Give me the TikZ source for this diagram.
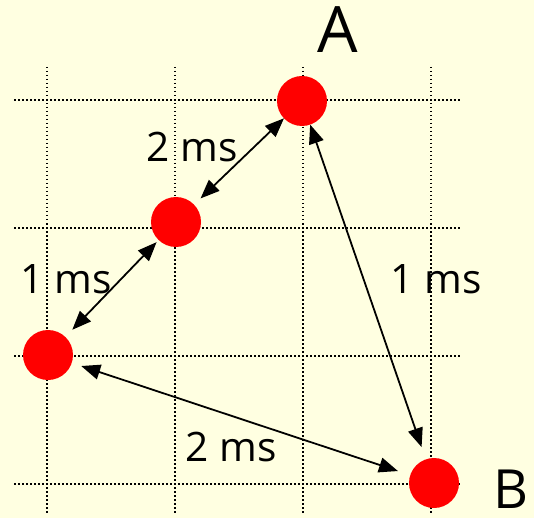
\documentclass[tikz,border=0pt]{standalone}
\usepackage{fontspec}
\setmainfont{Open Sans}
\usetikzlibrary{arrows.meta}
\definecolor{paper}{RGB}{255,255,225}
\tikzset{
  router/.style={circle, fill=red, minimum size=50pt, inner sep=0pt, outer sep=0pt},
  gridline/.style={line width=1.5pt, dash pattern=on 1.5pt off 2.5pt},
  link/.style={line width=1.8pt, {Triangle[length=19pt,width=15pt]}-{Triangle[length=19pt,width=15pt]}},
  delay/.style={anchor=base, inner sep=0pt, font=\fontsize{40.6}{40.6}\selectfont},
}
\begin{document}
\begin{tikzpicture}[x=1pt, y=-1pt]
  \fill[paper] (0,0) rectangle (534,518);
  \useasboundingbox (0,0) rectangle (534,518);
  % dotted grid
  \foreach \g in {47,175,303,431} \draw[gridline] (\g,67) -- (\g,513);
  \foreach \g in {100,228,356,484} \draw[gridline] (14,\g) -- (460,\g);
  % routers
  \node[router] (A) at (302,101) {};
  \node[router] (hop1) at (176,222) {};
  \node[router] (hop2) at (48,355) {};
  \node[router] (B) at (434,483) {};
  \node[anchor=base, inner sep=0pt, font=\fontsize{64}{64}\selectfont] (labA) at (338,53) {A};
  \node[anchor=base, inner sep=0pt, font=\fontsize{54}{54}\selectfont] (labB) at (511,508) {B};
  % links
  \draw[link, shorten <=9pt] (hop1) -- (A);
  \draw[link, shorten <=10pt, shorten >=3pt] (hop2) -- (hop1);
  \draw[link, shorten <=10pt, shorten >=13pt] (hop2) -- (B);
  \draw[link, shorten >=13pt] (A) -- (B);
  \node[delay] (d1) at (192,162) {2 ms};
  \node[delay] (d2) at (66,293) {1 ms};
  \node[delay] (d3) at (436,293) {1 ms};
  \node[delay] (d4) at (231,461) {2 ms};
\end{tikzpicture}
\end{document}
